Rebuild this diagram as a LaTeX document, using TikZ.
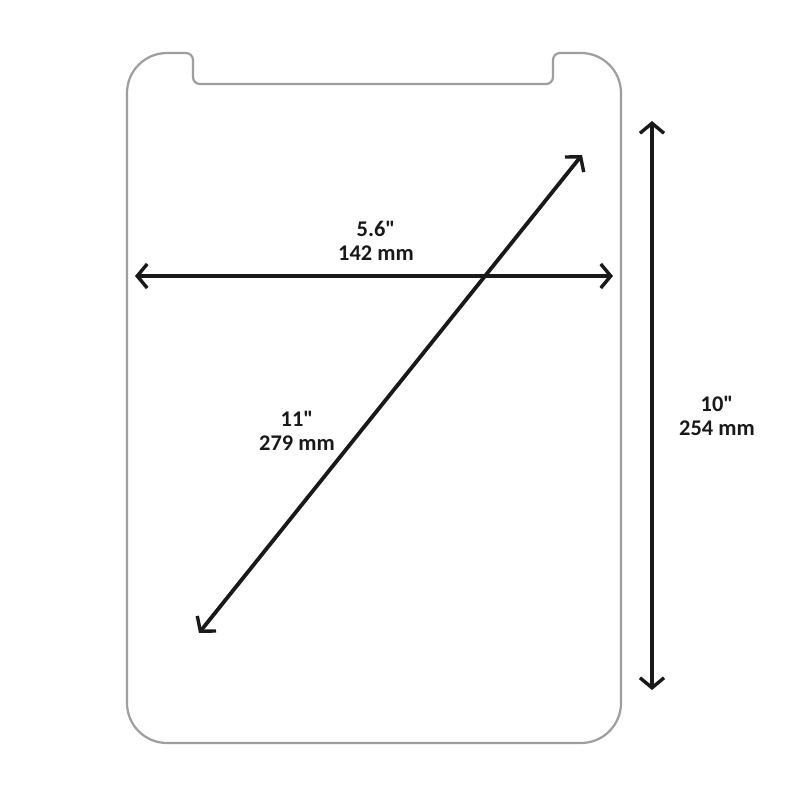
\documentclass[tikz,border=0pt]{standalone}
\usepackage{fontspec}
\setmainfont{Carlito}[Ligatures=TeXOff]
\usetikzlibrary{arrows.meta}
\begin{document}
\begin{tikzpicture}[x=0.5pt,y=-0.5pt,
  outline/.style={draw=black!38,line width=1.1pt,line join=round},
  dimarrow/.style={line width=1.9pt,black!90,{Straight Barb[length=5pt,width=12pt,line width=1.7pt]}-{Straight Barb[length=5pt,width=12pt,line width=1.7pt]}},
  dimlabel/.style={align=center,font=\bfseries\fontsize{11.2}{12}\selectfont,text=black!90,inner sep=0pt}]
\useasboundingbox[fill=white] (0,0) rectangle (800,800);
% device outline
\draw[outline] (127,703) -- (127,93) arc[start angle=180,end angle=90,radius=20pt]
  -- (186,53) arc[start angle=90,end angle=0,radius=3.5pt]
  -- (193,77) arc[start angle=180,end angle=270,radius=3.5pt]
  -- (546,84) arc[start angle=270,end angle=360,radius=3.5pt]
  -- (553,60) arc[start angle=180,end angle=90,radius=3.5pt]
  -- (581,53) arc[start angle=90,end angle=0,radius=20pt]
  -- (621,703) arc[start angle=0,end angle=-90,radius=20pt]
  -- (167,743) arc[start angle=270,end angle=180,radius=20pt] -- cycle;
% arrow end points
\coordinate (hL) at (135,276);
\coordinate (hR) at (613,276);
\coordinate (dB) at (199,633);
\coordinate (dT) at (582,155);
\coordinate (vT) at (652,121);
\coordinate (vB) at (652,690);
\draw[dimarrow] (hL) -- (hR);
\draw[dimarrow] (dB) -- (dT);
\draw[dimarrow] (vT) -- (vB);
% labels
\node[dimlabel] (wlab) at (376,241) {5.6"\\142 mm};
\node[dimlabel] (dlab) at (297,431) {11"\\279 mm};
\node[dimlabel] (hlab) at (717,416) {10"\\254 mm};
\end{tikzpicture}
\end{document}
